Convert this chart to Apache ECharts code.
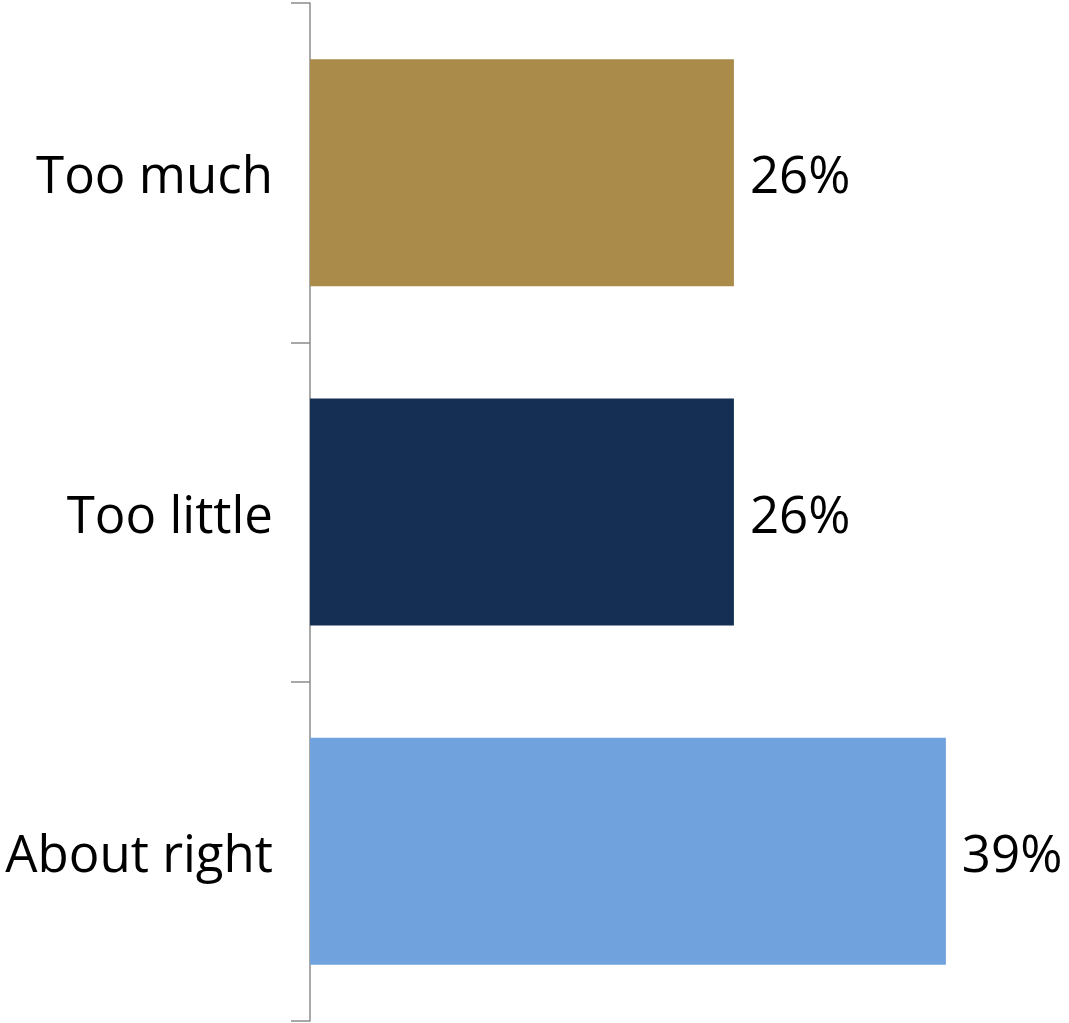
<!DOCTYPE html>
<html><head><meta charset="utf-8">
<script src="https://cdn.jsdelivr.net/npm/echarts@6/dist/echarts.min.js"></script>
<style>html,body{margin:0;padding:0;background:#fff}#c{width:1069px;height:1023px}</style>
</head><body><div id="c"></div>
<script>
const categories = ['Too much', 'Too little', 'About right'];
const values = [26, 26, 39];
const colors = ['#AA8B4A', '#142F53', '#70A2DE'];

const txt = {fontSize: 51, color: '#000', fontFamily: 'Open Sans', padding: [12, 0, 0, 0]};
const chart = echarts.init(document.getElementById('c'), null, {renderer: 'canvas'});
chart.setOption({
  animation: false,
  grid: {left: 310, right: 9, top: 3, bottom: 2, containLabel: false},
  xAxis: {type: 'value', min: 0, max: 46, show: false},
  yAxis: {
    type: 'category', data: categories, inverse: true,
    axisLine: {show: true, lineStyle: {color: '#8c8c8c', width: 1.5}},
    axisTick: {show: true, length: 19, lineStyle: {color: '#8c8c8c', width: 1.5}},
    axisLabel: {margin: 37, fontSize: 51, color: '#000', fontFamily: 'Open Sans',
      formatter: v => '{t|' + v + '}', rich: {t: txt}},
    splitLine: {show: false}
  },
  series: [{
    type: 'bar',
    data: values.map((v, i) => ({value: v, itemStyle: {color: colors[i]}})),
    barWidth: 227,
    label: {show: true, position: 'right', distance: 16, fontSize: 51, color: '#000', fontFamily: 'Open Sans',
      formatter: p => '{t|' + p.value + '%}', rich: {t: txt}}
  }]
});
</script></body></html>
